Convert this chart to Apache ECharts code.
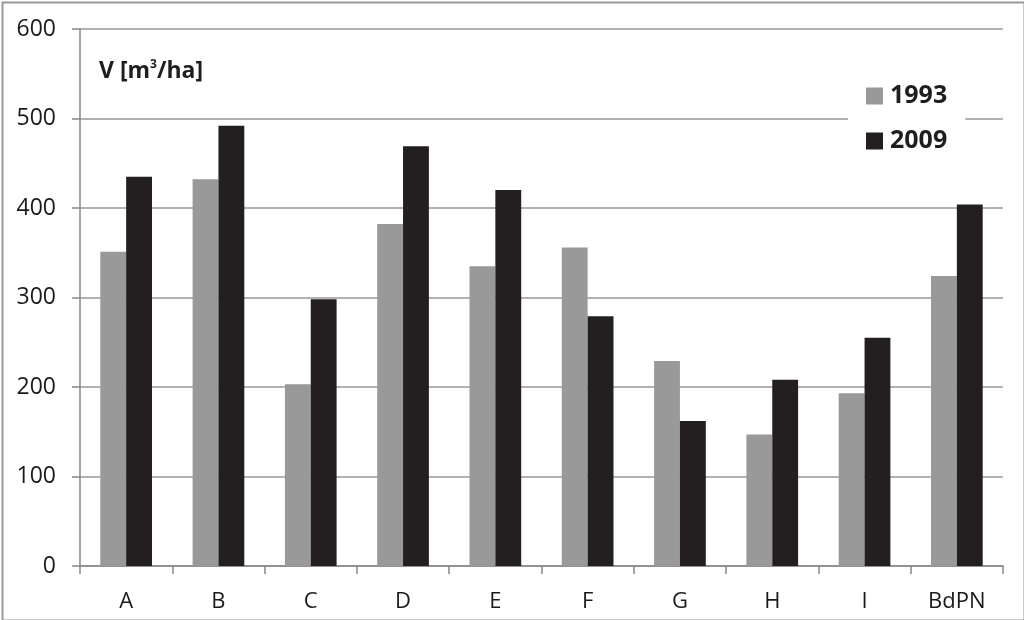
<!DOCTYPE html>
<html><head><meta charset="utf-8">
<script src="https://cdn.jsdelivr.net/npm/echarts@6/dist/echarts.min.js"></script>
<style>html,body{margin:0;padding:0;background:#fff}#c{width:1024px;height:620px}</style>
</head><body><div id="c"></div>
<script>
const categories = ['A','B','C','D','E','F','G','H','I','BdPN'];
const v1993 = [351, 432, 203, 382, 335, 356, 229, 147, 193, 324];
const v2009 = [435, 492, 298, 469, 420, 279, 162, 208, 255, 404];
const yTicks = [0, 100, 200, 300, 400, 500, 600];

const chart = echarts.init(document.getElementById('c'), null, {renderer:'canvas'});
const font = '"Open Sans", "Liberation Sans", sans-serif';
chart.setOption({
  animation: false,
  backgroundColor: '#fff',
  textStyle: {fontFamily: font},
  grid: {left: 80, right: 21, top: 29, bottom: 54, containLabel: false},
  legend: {
    orient: 'vertical', left: 848, top: 77,
    itemWidth: 17, itemHeight: 17, itemGap: 19,
    padding: [6, 18, 6, 18],
    backgroundColor: '#fff',
    icon: 'rect',
    textStyle: {fontSize: 25, lineHeight: 26, fontWeight: 'bold', color: '#1e1e1e', fontFamily: font, padding: [0,0,0,2]},
    data: ['1993', '2009']
  },
  xAxis: {
    type: 'category', data: categories,
    axisLine: {lineStyle: {color: '#888', width: 1.5}},
    axisTick: {show: true, length: 8, alignWithLabel: false, lineStyle: {color: '#888', width: 1.5}},
    axisLabel: {fontSize: 22, color: '#1a1a1a', margin: 25, fontFamily: font}
  },
  yAxis: {
    type: 'value', min: yTicks[0], max: yTicks[yTicks.length-1], interval: 100,
    axisLine: {show: true, lineStyle: {color: '#888', width: 1.5}},
    axisTick: {show: true, length: 8, lineStyle: {color: '#888', width: 1.5}},
    axisLabel: {fontSize: 23, color: '#1a1a1a', margin: 24, fontFamily: font},
    splitLine: {show: true, lineStyle: {color: '#999', width: 1.5}}
  },
  series: [
    {name: '1993', type: 'bar', data: v1993, barWidth: '28%', barGap: '0%', itemStyle: {color: '#999999'}},
    {name: '2009', type: 'bar', data: v2009, barWidth: '28%', itemStyle: {color: '#231f20'}}
  ],
  graphic: [
    {type: 'rect', left: 0, top: 0, shape: {x: 1, y: 1, width: 1022, height: 618}, style: {fill: 'none', stroke: '#999', lineWidth: 2}, z: 100},
    {type: 'text', left: 99, top: 59, style: {
      text: '{b|V [m}{s|3}{b|/ha]}',
      rich: {
        b: {fontSize: 23, fontWeight: 'bold', fill: '#1e1e1e', fontFamily: font, verticalAlign: 'bottom'},
        s: {fontSize: 12, fontWeight: 'bold', fill: '#1e1e1e', fontFamily: font, verticalAlign: 'top', padding: [0, 0, 12, 0]}
      }
    }}
  ]
});
</script></body></html>
